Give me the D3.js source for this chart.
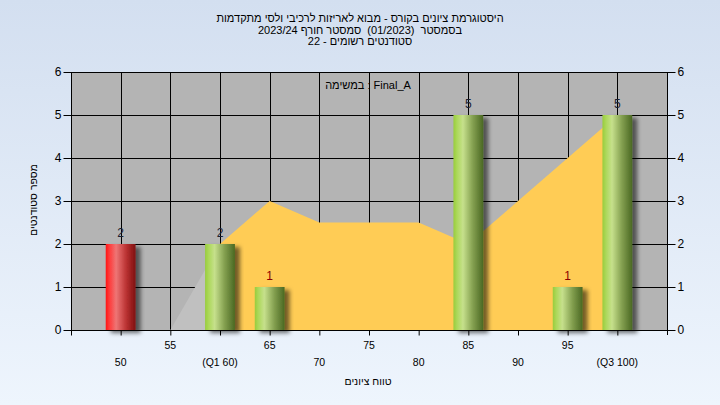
<!DOCTYPE html>
<html><head><meta charset="utf-8">
<script src="https://cdn.jsdelivr.net/npm/d3@7"></script>
<style>html,body{margin:0;padding:0;}svg{display:block;}</style>
</head><body>
<svg id="c" width="720" height="405"></svg>
<script>
const titleLines = ["היסטוגרמת ציונים בקורס - מבוא לאריזות לרכיבי ולסי מתקדמות",
  "בסמסטר  (01/2023)  סמסטר חורף 2023/24",
  "סטודנטים רשומים - 22"];
const legendText = "במשימה : Final_A";
const yTitle = "מספר סטודנטים";
const xTitle = "טווח ציונים";
const barGrades = [50, 60, 65, 85, 95, 100];
const barCounts = [2, 2, 1, 5, 1, 5];
const barFail = [true, false, false, false, false, false];
const areaGrades = [55, 60, 65, 70, 75, 80, 85, 90, 95, 100];
const areaValues = [0, 2, 3, 2.5, 2.5, 2.5, 2, 3, 4, 5];
const q1 = 60, q3 = 100;
const xTicks = [50, 55, 60, 65, 70, 75, 80, 85, 90, 95, 100];
const xTickLabels = ["50", "55", "(Q1 60)", "65", "70", "75", "80", "85", "90", "95", "(Q3 100)"];
const yTicks = [0, 1, 2, 3, 4, 5, 6];

const svg = d3.select("#c");
const W = 720, H = 405;
const L = 71, R = 667, T = 72, B = 330;
const x = d3.scaleLinear().domain([45, 105]).range([L, R]);
const y = d3.scaleLinear().domain([0, 6]).range([B, T]);
const font = "'Liberation Sans', Arial, sans-serif";

const defs = svg.append("defs");
const bg = defs.append("linearGradient").attr("id", "bg").attr("x1", 0).attr("y1", 0).attr("x2", 0).attr("y2", 1);
bg.append("stop").attr("offset", "0%").attr("stop-color", "#d3dff0");
bg.append("stop").attr("offset", "100%").attr("stop-color", "#eef5fd");
function barGrad(id, stops) {
  const g = defs.append("linearGradient").attr("id", id).attr("x1", 0).attr("y1", 0).attr("x2", 1).attr("y2", 0);
  stops.forEach(s => g.append("stop").attr("offset", s[0]).attr("stop-color", s[1]));
}
barGrad("gRed", [["0%", "#ff1616"], ["12%", "#ff3a3a"], ["35%", "#ee7575"], ["70%", "#b83030"], ["100%", "#7e1010"]]);
barGrad("gGreen", [["0%", "#98cc3c"], ["12%", "#acd85a"], ["32%", "#c6e08c"], ["65%", "#84a050"], ["100%", "#4a6822"]]);
const f = defs.append("filter").attr("id", "sh").attr("x", "-30%").attr("y", "-10%").attr("width", "160%").attr("height", "130%");
f.append("feDropShadow").attr("dx", 5).attr("dy", 3).attr("stdDeviation", 2).attr("flood-color", "#000").attr("flood-opacity", 0.55);

svg.append("rect").attr("width", W).attr("height", H).attr("fill", "url(#bg)");

// titles
svg.append("g").selectAll("text").data(titleLines).join("text")
  .attr("x", 360).attr("y", (d, i) => 22 + i * 11.5)
  .attr("text-anchor", "middle").attr("direction", "rtl")
  .style("unicode-bidi", "embed").style("white-space", "pre")
  .attr("font-family", font).attr("font-size", 11).attr("fill", "#000").text(d => d);

// plot bg
svg.append("rect").attr("x", L).attr("y", T).attr("width", R - L).attr("height", B - T).attr("fill", "#b4b4b4");

// grid
const grid = svg.append("g").attr("stroke", "#000").attr("stroke-width", 1);
grid.selectAll("line.h").data(yTicks.slice(1)).join("line").attr("class", "h")
  .attr("x1", L).attr("x2", R).attr("y1", d => Math.round(y(d)) + 0.5).attr("y2", d => Math.round(y(d)) + 0.5);
grid.selectAll("line.v").data(xTicks).join("line").attr("class", "v")
  .attr("y1", T).attr("y2", B).attr("x1", d => Math.round(x(d)) + 0.5).attr("x2", d => Math.round(x(d)) + 0.5);

// area
const pts = areaGrades.map((g, i) => [g, areaValues[i]]);
const area = d3.area().x(d => x(d[0])).y0(y(0)).y1(d => y(d[1]));
svg.append("path").datum(pts.filter(p => p[0] <= q1)).attr("d", area).attr("fill", "#c0c0c0");
svg.append("path").datum(pts.filter(p => p[0] >= q1 && p[0] <= q3)).attr("d", area).attr("fill", "#ffcc55");

// axes
const axL = svg.append("g").attr("transform", `translate(${L + 0.5},0)`)
  .call(d3.axisLeft(y).tickValues(yTicks).tickSize(8).tickPadding(2).tickFormat(d3.format("d")));
const axR = svg.append("g").attr("transform", `translate(${R + 0.5},0)`)
  .call(d3.axisRight(y).tickValues(yTicks).tickSize(8).tickPadding(2).tickFormat(d3.format("d")));
[axL, axR].forEach(a => {
  a.select(".domain").attr("d", `M0,${T}V${B + 5}`).attr("stroke", "#000");
  a.selectAll(".tick line").attr("stroke", "#000");
  a.selectAll(".tick text").attr("font-family", font).attr("font-size", 12).attr("fill", "#000");
});
const axB = svg.append("g").attr("transform", `translate(0,${B + 0.5})`)
  .call(d3.axisBottom(x).tickValues([45].concat(xTicks)).tickSize(5).tickFormat(""));
axB.select(".domain").attr("d", `M${L},0H${R}`).attr("stroke", "#000");
axB.selectAll(".tick line").attr("stroke", "#000");

svg.append("g").selectAll("text").data(xTicks).join("text")
  .attr("x", d => x(d)).attr("y", (d, i) => i % 2 === 0 ? 366 : 349)
  .attr("text-anchor", "middle").attr("font-family", font).attr("font-size", 10.5).attr("fill", "#000")
  .text((d, i) => xTickLabels[i]);

// bars
const bw = x(1.5) - x(0);
const bars = barGrades.map((g, i) => ({g, c: barCounts[i], fail: barFail[i]}));
svg.append("g").selectAll("rect").data(bars).join("rect")
  .attr("x", d => x(d.g) - bw).attr("width", bw * 2)
  .attr("y", d => y(d.c)).attr("height", d => y(0) - y(d.c))
  .attr("fill", d => d.fail ? "url(#gRed)" : "url(#gGreen)")
  .attr("filter", "url(#sh)");
svg.append("g").selectAll("text").data(bars).join("text")
  .attr("x", d => x(d.g)).attr("y", d => y(d.c) - 7)
  .attr("text-anchor", "middle").attr("font-family", font).attr("font-size", 12)
  .attr("fill", d => d.c === 1 ? "#8b0000" : "#1a2030").text(d => d.c);

// legend text
svg.append("text").attr("x", 368).attr("y", 89).attr("text-anchor", "middle")
  .attr("font-family", font).attr("font-size", 11).attr("fill", "#000").text(legendText);

// axis titles
svg.append("text").attr("transform", `translate(37,200) rotate(-90)`).attr("text-anchor", "middle")
  .attr("direction", "rtl").attr("font-family", font).attr("font-size", 10.5).attr("fill", "#000").text(yTitle);
svg.append("text").attr("x", 368).attr("y", 385).attr("text-anchor", "middle")
  .attr("direction", "rtl").attr("font-family", font).attr("font-size", 10.5).attr("fill", "#000").text(xTitle);
</script>
</body></html>
